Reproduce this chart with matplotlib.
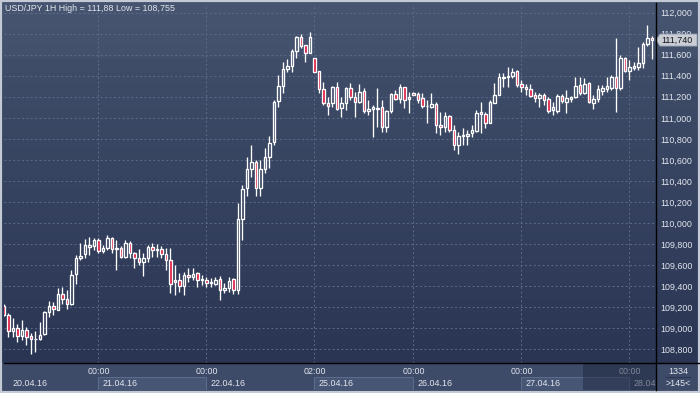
import numpy as np
import matplotlib.pyplot as plt
import matplotlib.transforms as mtransforms
from matplotlib.patches import Rectangle, Polygon
from matplotlib.collections import LineCollection
from matplotlib.lines import Line2D

# USD/JPY hourly candles, 20.04.16 03:00 -> 28.04.16 05:00
opens = [
    109.209, 109.123, 108.971, 109.000, 108.924, 108.981, 108.924, 108.895, 108.895, 108.943,
    109.152, 109.209, 109.171, 109.323, 109.276, 109.228, 109.514, 109.666, 109.704, 109.771,
    109.780, 109.837, 109.733, 109.761, 109.856, 109.752, 109.761, 109.675, 109.809, 109.713,
    109.666, 109.628, 109.666, 109.771, 109.742, 109.752, 109.704, 109.647, 109.457, 109.457,
    109.399, 109.504, 109.485, 109.523, 109.457, 109.457, 109.428, 109.418, 109.466, 109.361,
    109.380, 109.466, 109.361, 110.037, 110.332, 110.513, 110.579, 110.332, 110.513, 110.627,
    110.770, 111.160, 111.303, 111.464, 111.493, 111.636, 111.769, 111.693, 111.617, 111.569,
    111.445, 111.274, 111.141, 111.141, 111.293, 111.093, 111.141, 111.284, 111.198, 111.150,
    111.255, 111.065, 111.084, 111.084, 111.103, 110.912, 111.065, 111.226, 111.179, 111.293,
    111.179, 111.236, 111.226, 111.188, 111.112, 111.103, 111.131, 110.931, 110.912, 111.017,
    110.884, 110.741, 110.827, 110.827, 110.855, 110.874, 111.055, 111.036, 110.951, 111.141,
    111.217, 111.379, 111.388, 111.398, 111.445, 111.322, 111.293, 111.274, 111.217, 111.188,
    111.217, 111.179, 111.074, 111.065, 111.207, 111.150, 111.179, 111.198, 111.312, 111.236,
    111.331, 111.141, 111.179, 111.255, 111.274, 111.284, 111.388, 111.284, 111.569, 111.445,
    111.474, 111.483, 111.521, 111.702, 111.759,
]
highs = [
    109.228, 109.142, 109.095, 109.038, 109.076, 109.009, 108.952, 108.971, 109.057, 109.162,
    109.257, 109.247, 109.380, 109.390, 109.361, 109.552, 109.694, 109.809, 109.847, 109.866,
    109.856, 109.856, 109.790, 109.885, 109.866, 109.837, 109.780, 109.837, 109.828, 109.723,
    109.752, 109.713, 109.790, 109.809, 109.799, 109.780, 109.761, 109.761, 109.599, 109.523,
    109.533, 109.571, 109.571, 109.533, 109.504, 109.485, 109.476, 109.485, 109.495, 109.428,
    109.485, 109.476, 110.189, 110.361, 110.627, 110.741, 110.598, 110.598, 110.713, 110.827,
    111.169, 111.407, 111.531, 111.560, 111.655, 111.778, 111.797, 111.693, 111.816, 111.569,
    111.445, 111.341, 111.198, 111.303, 111.341, 111.198, 111.293, 111.331, 111.246, 111.322,
    111.284, 111.169, 111.122, 111.284, 111.169, 111.074, 111.236, 111.265, 111.322, 111.293,
    111.246, 111.246, 111.246, 111.236, 111.169, 111.236, 111.150, 111.055, 111.055, 111.027,
    110.931, 110.865, 110.903, 110.884, 110.931, 111.074, 111.150, 111.055, 111.169, 111.331,
    111.426, 111.426, 111.483, 111.474, 111.455, 111.360, 111.322, 111.322, 111.246, 111.236,
    111.236, 111.198, 111.150, 111.226, 111.226, 111.265, 111.207, 111.388, 111.388, 111.379,
    111.341, 111.217, 111.312, 111.312, 111.388, 111.407, 111.759, 111.598, 111.579, 111.550,
    111.531, 111.674, 111.721, 111.880, 111.778,
]
lows = [
    109.114, 108.914, 108.914, 108.867, 108.886, 108.838, 108.755, 108.771, 108.886, 108.933,
    109.104, 109.123, 109.171, 109.228, 109.181, 109.219, 109.418, 109.647, 109.666, 109.694,
    109.742, 109.713, 109.713, 109.742, 109.713, 109.552, 109.666, 109.666, 109.666, 109.571,
    109.599, 109.495, 109.628, 109.675, 109.675, 109.666, 109.552, 109.333, 109.314, 109.342,
    109.314, 109.437, 109.457, 109.390, 109.409, 109.390, 109.390, 109.409, 109.266, 109.333,
    109.342, 109.323, 109.323, 109.837, 110.256, 110.437, 110.256, 110.256, 110.475, 110.522,
    110.741, 111.103, 111.236, 111.436, 111.436, 111.569, 111.664, 111.531, 111.617, 111.436,
    111.236, 111.122, 111.027, 111.103, 111.074, 111.008, 111.074, 111.169, 111.008, 111.141,
    111.046, 111.027, 110.817, 110.912, 110.865, 110.865, 111.046, 111.169, 111.141, 111.093,
    111.046, 111.217, 111.141, 111.093, 110.951, 111.093, 110.855, 110.836, 110.865, 110.865,
    110.694, 110.656, 110.741, 110.741, 110.817, 110.865, 110.855, 110.903, 110.951, 111.141,
    111.217, 111.293, 111.293, 111.379, 111.293, 111.246, 111.217, 111.198, 111.150, 111.103,
    111.122, 111.046, 111.027, 111.046, 111.141, 111.046, 111.150, 111.188, 111.217, 111.226,
    111.141, 111.084, 111.150, 111.217, 111.246, 111.265, 111.055, 111.265, 111.436, 111.360,
    111.455, 111.455, 111.474, 111.683, 111.560,
]
closes = [
    109.123, 108.971, 109.000, 108.924, 108.981, 108.914, 108.895, 108.900, 108.933, 109.152,
    109.209, 109.181, 109.323, 109.276, 109.228, 109.504, 109.666, 109.685, 109.790, 109.790,
    109.837, 109.733, 109.761, 109.856, 109.752, 109.757, 109.675, 109.809, 109.713, 109.666,
    109.628, 109.666, 109.771, 109.742, 109.747, 109.704, 109.647, 109.418, 109.437, 109.399,
    109.504, 109.485, 109.514, 109.457, 109.462, 109.428, 109.433, 109.457, 109.361, 109.380,
    109.447, 109.361, 110.037, 110.322, 110.513, 110.579, 110.332, 110.513, 110.627, 110.760,
    111.150, 111.303, 111.464, 111.493, 111.636, 111.769, 111.683, 111.617, 111.769, 111.436,
    111.274, 111.141, 111.112, 111.293, 111.084, 111.141, 111.284, 111.198, 111.150, 111.246,
    111.065, 111.084, 111.103, 111.089, 110.912, 111.065, 111.226, 111.179, 111.293, 111.169,
    111.198, 111.217, 111.169, 111.112, 111.117, 111.131, 110.931, 110.912, 111.017, 110.884,
    110.741, 110.827, 110.832, 110.846, 110.884, 111.046, 111.036, 110.951, 111.150, 111.217,
    111.388, 111.388, 111.398, 111.436, 111.312, 111.293, 111.274, 111.207, 111.188, 111.217,
    111.169, 111.065, 111.103, 111.207, 111.160, 111.188, 111.198, 111.303, 111.236, 111.322,
    111.150, 111.179, 111.274, 111.284, 111.303, 111.388, 111.284, 111.569, 111.445, 111.483,
    111.493, 111.521, 111.702, 111.759, 111.740,
]

# days on the time axis: first candle index of each day
day_labels = ["20.04.16", "21.04.16", "22.04.16", "25.04.16", "26.04.16", "27.04.16", "28.04"]
day_starts = [0, 21, 45, 69, 91, 115, 139]
time_labels = ["00:00", "00:00", "02:00", "00:00", "00:00", "00:00"]
y_ticks = [108.8, 109.0, 109.2, 109.4, 109.6, 109.8, 110.0, 110.2, 110.4,
           110.6, 110.8, 111.0, 111.2, 111.4, 111.6, 111.8, 112.0]

W, H = 700, 393
FONT = "Liberation Sans"
FS = 6.4
TXT = "#e2e6ee"
RED = "#e0163f"

fig = plt.figure(figsize=(W / 100, H / 100), dpi=100)
fig.patch.set_facecolor("#3e4b68")

# background gradient (chart + price scale)
bg = fig.add_axes([0, 0, 1, 1])
bg.set_zorder(-5)
bg.axis("off")
rows = np.arange(H)
key_y = [0, 57, 58, 362, 363, 392]
key_c = np.array([[71, 85, 113], [67, 81, 109], [63, 77, 105],
                  [42, 53, 83], [62, 75, 104], [62, 75, 104]]) / 255
img = np.stack([np.interp(rows, key_y, key_c[:, k]) for k in range(3)], axis=1)
bg.imshow(img[:, None, :], extent=(0, 1, 0, 1), aspect="auto")

# main price axes
ax = fig.add_axes([4 / W, 1 - 363 / H, 652 / W, 359 / H])
ax.set_facecolor("none")
ax.set_xlim(0.0, 144.9)
ax.set_ylim(108.667, 112.083)

x = np.arange(len(opens))
segs = []
for i in x:
    top = max(opens[i], closes[i])
    bot = min(opens[i], closes[i])
    segs.append([(i, highs[i]), (i, top)])
    segs.append([(i, bot), (i, lows[i])])
    up = closes[i] >= opens[i]
    ax.add_patch(Rectangle((i - 0.26, bot), 0.52, max(top - bot, 0.004),
                           facecolor="none" if up else RED, edgecolor="white",
                           linewidth=0.95, zorder=3))
ax.add_collection(LineCollection(segs, colors="white", linewidths=0.95, zorder=3))

ax.set_yticks(y_ticks)
ax.set_yticklabels([f"{v:.3f}".replace(".", ",") for v in y_ticks])
ax.yaxis.tick_right()
ax.tick_params(axis="y", length=0, pad=3, labelsize=FS, labelcolor=TXT)
for lab in ax.get_yticklabels():
    lab.set_fontfamily(FONT)
ax.set_xticks(day_starts[1:])
ax.tick_params(axis="x", length=0, labelbottom=False)
ax.grid(True, color="#5d6b8a", linestyle=(0, (2, 2.5)), linewidth=0.7, zorder=0)
for s in ax.spines.values():
    s.set_visible(False)

# time band under the chart
ax2 = fig.add_axes([4 / W, 3 / H, 652 / W, 27 / H], sharex=ax)
ax2.set_facecolor("#3e4b68")
ax2.set_ylim(27, 0)
ax2.axis("off")
ax2.set_xlim(0.0, 144.9)
ends = day_starts[1:] + [144.9]
for k, (d0, d1) in enumerate(zip(day_starts, ends)):
    if k % 2 == 1:
        ax2.add_patch(Rectangle((d0, 14), d1 - d0, 13.5, facecolor="#485675",
                                edgecolor="#5f6d8d", linewidth=0.7))
    ax2.text(max(d0, 1.0) + 0.8, 20.5, day_labels[k], color=TXT, fontsize=FS,
             family=FONT, va="center", ha="left", clip_on=True)
for d, t in zip(day_starts[1:], time_labels):
    ax2.text(d, 8.5, t, color=TXT, fontsize=FS, family=FONT, va="center", ha="center")
# navigator shade on the right end
ax2.axvspan(128.7, 144.9, color="#1e2740", alpha=0.5, zorder=5, lw=0)

# dark separators
fig.add_artist(Line2D([4 / W, 1], [1 - 363 / H] * 2, color="black", lw=1.0))
fig.add_artist(Line2D([656 / W] * 2, [3 / H, 1 - 3 / H], color="black", lw=1.0))
fig.add_artist(Line2D([666 / W, 690 / W], [1 - 377 / H] * 2, color="#2a3350", lw=0.7))

# title
fig.text(5 / W, 1 - 8.5 / H,
         f"USD/JPY 1H High = {max(highs):.2f} Low = {min(lows):.3f}".replace(".", ","),
         color=TXT, fontsize=FS, family=FONT, va="center", ha="left")

# bottom right counters
fig.text(678 / W, 1 - 371 / H, "1334", color=TXT, fontsize=FS, family=FONT,
         ha="center", va="center")
fig.text(678 / W, 1 - 383.5 / H, ">145<", color=TXT, fontsize=FS, family=FONT,
         ha="center", va="center")

# last price tag
ident = mtransforms.IdentityTransform()
yp = ax.transData.transform((0, closes[-1]))[1]
tag = Polygon([(656, yp), (660, yp + 6), (697, yp + 6), (697, yp - 6), (660, yp - 6)],
              closed=True, facecolor="#c9ced6", edgecolor="#9aa2b0", lw=0.6,
              transform=ident)
fig.add_artist(tag)
fig.text(661, yp, f"{closes[-1]:.3f}".replace(".", ","), transform=ident,
         color="#151515", fontsize=FS, family=FONT, va="center", ha="left")

# outer frame
fig.add_artist(Rectangle((0, 0), 1, 1, transform=fig.transFigure, fill=False,
                         edgecolor="#c3cad5", lw=3.0))

fig.savefig("out.png", dpi=100, facecolor=fig.get_facecolor())
